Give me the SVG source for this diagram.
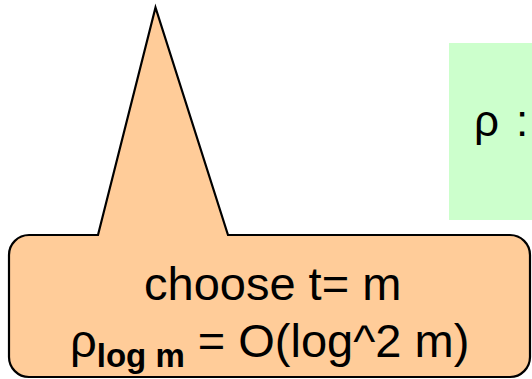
<svg xmlns="http://www.w3.org/2000/svg" width="532" height="379" viewBox="0 0 532 379">
  <style>
    .txt { font-family: "Liberation Sans", Arial, sans-serif; fill: #000000; }
    .callout { fill: #FFCC99; stroke: #000000; stroke-width: 2.2; stroke-linejoin: miter; }
    .green { fill: #CCFFCC; stroke: none; }
  </style>
  <rect width="532" height="379" fill="#FFFFFF"/>
  <g id="green-box">
    <rect class="green" x="449" y="43" width="90" height="177"/>
    <text class="txt" x="474" y="136" font-size="44">ρ<tspan x="516">:</tspan></text>
  </g>
  <g id="callout">
    <path class="callout" d="M 29,235 L 98,235 L 155.5,7.5 L 228,235 L 510,235 A 20 20 0 0 1 530,255 L 530,357 A 20 20 0 0 1 510,377 L 29,377 A 20 20 0 0 1 9,357 L 9,255 A 20 20 0 0 1 29,235 Z"/>
    <text class="txt" x="144" y="300" font-size="47">choose t= m</text>
    <text class="txt" x="70" y="356.5" font-size="47">ρ<tspan font-weight="bold" font-size="33" dy="10">log m</tspan><tspan dy="-10"> = O(log^2 m)</tspan></text>
  </g>
</svg>
